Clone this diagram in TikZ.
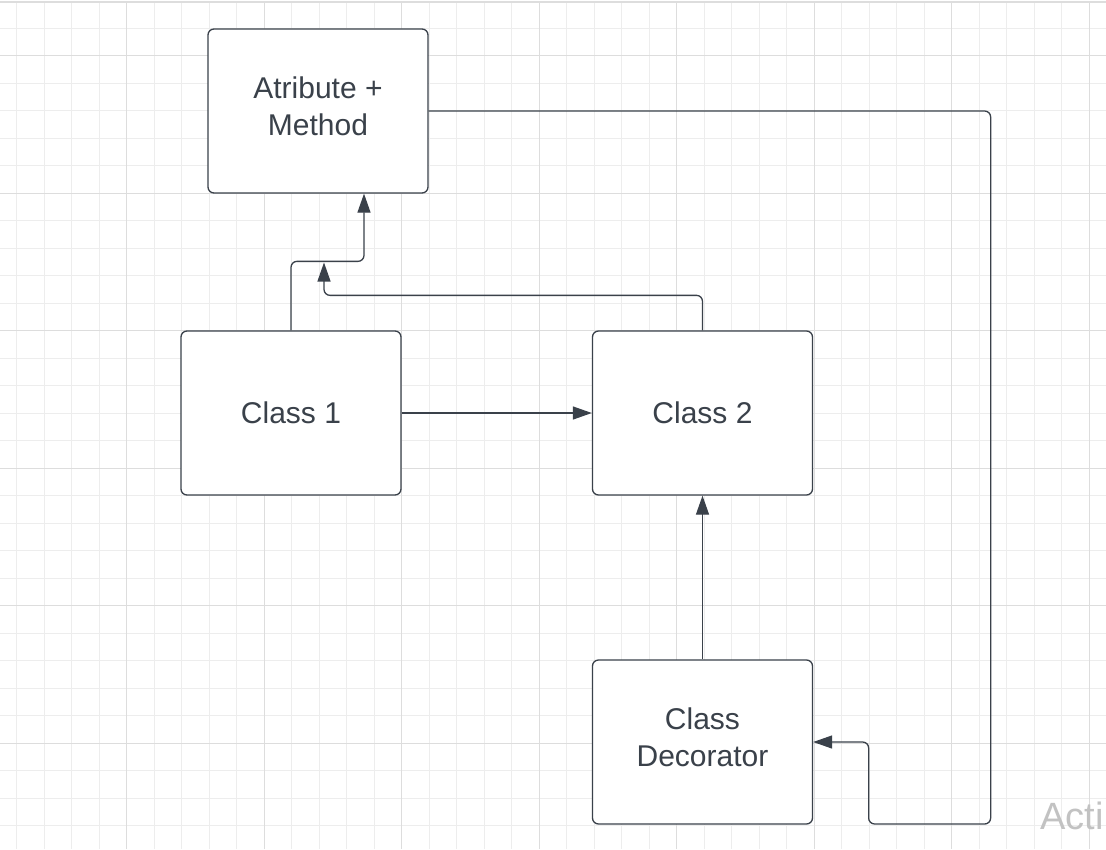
\documentclass[tikz,border=0pt]{standalone}
\usepackage{fontspec}
\setmainfont{Liberation Sans}
\usetikzlibrary{arrows.meta}
\definecolor{InkGrey}{HTML}{3A414A}
\definecolor{GridMinor}{HTML}{EDEDED}
\definecolor{GridMajor}{HTML}{DDDDDD}
\definecolor{MarkGrey}{HTML}{C2C2C2}
% extra depth under the last line of a two-line label
\newcommand{\lowpad}{\rule[-10pt]{0pt}{10pt}}
\tikzset{
  classbox/.style={draw=InkGrey,line width=1.3pt,rounded corners=6pt,fill=white,
    minimum width=220pt,minimum height=164pt,inner sep=0pt,align=center,
    text=InkGrey,font=\fontsize{30}{37}\selectfont},
  link/.style={draw=InkGrey,line width=1.3pt,rounded corners=6pt,
    -{Triangle[length=19pt,width=13pt]}}
}

\begin{document}
\begin{tikzpicture}[x=1pt,y=-1pt]
  \useasboundingbox[fill=white] (0,0) rectangle (1106,849);
  % grid paper
  \foreach \i in {0,...,40} {
    \draw[GridMinor,line width=0.9pt] ({16.7+27.5*\i},2) -- ({16.7+27.5*\i},849);
  }
  \foreach \i in {1,...,31} {
    \draw[GridMinor,line width=0.9pt] (0,{0.5+27.5*\i}) -- (1106,{0.5+27.5*\i});
  }
  \foreach \j in {0,...,7} {
    \draw[GridMajor,line width=0.9pt] ({126.7+137.5*\j},2) -- ({126.7+137.5*\j},849);
  }
  \foreach \j in {0,...,5} {
    \draw[GridMajor,line width=0.9pt] (0,{55.5+137.5*\j}) -- (1106,{55.5+137.5*\j});
  }
  \draw[GridMajor,line width=1.6pt] (0,2) -- (1106,2);

  % boxes
  \node[classbox] (attr)  at (318,111)   {Atribute +\\Method\lowpad};
  \node[classbox] (class1) at (291,413)  {Class 1};
  \node[classbox] (class2) at (702.5,413) {Class 2};
  \node[classbox] (deco)  at (702.5,742) {Class\\Decorator\lowpad};
  \coordinate (join) at (324,262.5);

  % connectors
  \draw[link] (class1.north) -- ++(0,-69) -| ([xshift=46pt]attr.south);
  \draw[link] (class2.north) -- ++(0,-35) -| (join);
  \draw[link] (class1.east) -- (class2.west);
  \draw[link] (deco.north) -- (class2.south);
  \draw[link] (attr.east) -- ++(562,0) -- ++(0,713) -- ++(-122,0) |- (deco.east);

  \node[anchor=base west,inner sep=0pt,text=MarkGrey,font=\fontsize{38}{38}\selectfont]
    (mark) at (1040,829) {Acti};
\end{tikzpicture}
\end{document}
